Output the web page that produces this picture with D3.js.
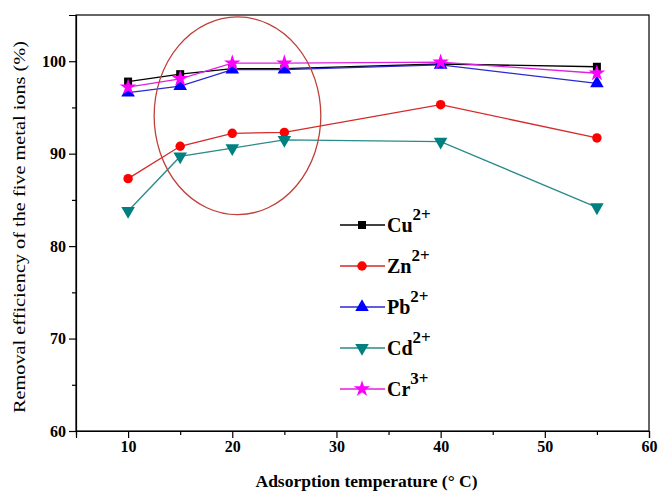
<!DOCTYPE html>
<html>
<head>
<meta charset="utf-8">
<script src="https://cdn.jsdelivr.net/npm/d3@7"></script>
<style>
  body { margin: 0; background: #fff; }
</style>
</head>
<body>
<div id="chart"></div>
<script>
// data
const temps = [10, 15, 20, 25, 40, 55];
const cu = [97.8, 98.6, 99.2, 99.2, 99.7, 99.4];
const zn = [87.3, 90.8, 92.2, 92.3, 95.3, 91.7];
const pb = [96.6, 97.3, 99.1, 99.1, 99.6, 97.6];
const cd = [83.8, 89.7, 90.6, 91.5, 91.3, 84.2];
const cr = [97.2, 98.1, 99.8, 99.8, 99.9, 98.7];
const xTicks = [10, 20, 30, 40, 50, 60];
const yTicks = [60, 70, 80, 90, 100];

const series = [
    {name: "Cu", sup: "2+", values: cu, line: "#000000", fill: "#000000", shape: "square"},
    {name: "Zn", sup: "2+", values: zn, line: "#d42a2a", fill: "#ff0000", shape: "circle"},
    {name: "Pb", sup: "2+", values: pb, line: "#2a2ad0", fill: "#0000ff", shape: "triangle"},
    {name: "Cd", sup: "2+", values: cd, line: "#2a8a8a", fill: "#008080", shape: "triangleDown"},
    {name: "Cr", sup: "3+", values: cr, line: "#e020e0", fill: "#ff00ff", shape: "star"}
];

const serif = "'Liberation Serif', 'DejaVu Serif', 'Times New Roman', serif";
const width = 658, height = 492;
const margin = {top: 15, right: 9, bottom: 61, left: 76};

const svg = d3.select("#chart").append("svg")
    .attr("width", width)
    .attr("height", height)
    .attr("font-family", serif);

const x = d3.scaleLinear().domain([5, 60]).range([margin.left, width - margin.right]);
const y = d3.scaleLinear().domain([60, 105]).range([height - margin.bottom, margin.top]);

// frame
svg.append("rect")
    .attr("x", margin.left).attr("y", margin.top)
    .attr("width", width - margin.left - margin.right)
    .attr("height", height - margin.top - margin.bottom)
    .attr("fill", "none").attr("stroke", "#000").attr("stroke-width", 1.2);

// minor ticks
const xMinor = d3.range(5, 61, 5).filter(d => d % 10 !== 0);
const yMinor = d3.range(65, 105, 10);

svg.append("g")
    .attr("transform", `translate(0,${height - margin.bottom})`)
    .call(d3.axisBottom(x).tickValues(xTicks).tickSize(7).tickPadding(3).tickFormat(d3.format("d")));
svg.append("g")
    .attr("transform", `translate(0,${height - margin.bottom})`)
    .call(d3.axisBottom(x).tickValues(xMinor).tickSize(4).tickFormat(""))
    .call(g => g.select(".domain").remove());

svg.append("g")
    .attr("transform", `translate(${margin.left},0)`)
    .call(d3.axisLeft(y).tickValues(yTicks).tickSize(7).tickPadding(3).tickFormat(d3.format("d")));
svg.append("g")
    .attr("transform", `translate(${margin.left},0)`)
    .call(d3.axisLeft(y).tickValues(yMinor).tickSize(4).tickFormat(""))
    .call(g => g.select(".domain").remove());

svg.selectAll("g").attr("font-family", serif);
svg.selectAll(".tick line").attr("stroke", "#000").attr("stroke-width", 1.2);
svg.selectAll(".domain").attr("stroke", "#000").attr("stroke-width", 1.2);
svg.selectAll(".tick text")
    .attr("font-size", 16)
    .attr("font-weight", "bold")
    .attr("fill", "#000");

// axis titles
svg.append("text")
    .attr("x", (margin.left + width - margin.right) / 2 + 4)
    .attr("y", 487)
    .attr("text-anchor", "middle")
    .attr("font-size", 17.5)
    .attr("font-weight", "bold")
    .text("Adsorption temperature (\u00b0  C)");

svg.append("text")
    .attr("transform", `translate(25,${(margin.top + height - margin.bottom) / 2 + 4}) rotate(-90)`)
    .attr("text-anchor", "middle")
    .attr("font-size", 17)
    .attr("textLength", 372)
    .attr("lengthAdjust", "spacingAndGlyphs")
    .text("Removal efficiency of the five metal ions (%)");

// marker shapes
const symbolFor = {
    square: d3.symbol().type(d3.symbolSquare).size(64),
    circle: d3.symbol().type(d3.symbolCircle).size(70),
    triangle: d3.symbol().type(d3.symbolTriangle).size(80),
    triangleDown: d3.symbol().type(d3.symbolTriangle).size(80),
    star: d3.symbol().type(d3.symbolStar).size(85)
};

function drawMarker(g, shape, fill, cx, cy) {
    g.append("path")
        .attr("d", symbolFor[shape]())
        .attr("transform", `translate(${cx},${cy})` + (shape === "triangleDown" ? " rotate(180)" : ""))
        .attr("fill", fill);
}

const line = d3.line()
    .x((d, i) => x(temps[i]))
    .y(d => y(d));

series.forEach(s => {
    const g = svg.append("g");
    g.append("path")
        .datum(s.values)
        .attr("d", line)
        .attr("fill", "none")
        .attr("stroke", s.line)
        .attr("stroke-width", 1.3);
    s.values.forEach((v, i) => drawMarker(g, s.shape, s.fill, x(temps[i]), y(v)));
});

// ellipse highlighting 15-25 C
svg.append("ellipse")
    .attr("cx", x(20.5))
    .attr("cy", y(94.1))
    .attr("rx", x(20.5) - x(12.5))
    .attr("ry", y(94.1) - y(104.8))
    .attr("fill", "none")
    .attr("stroke", "#c0403a")
    .attr("stroke-width", 1.3);

// legend
const legend = svg.append("g").attr("transform", "translate(340,225)");
series.forEach((s, i) => {
    const row = legend.append("g").attr("transform", `translate(0,${i * 41})`);
    row.append("line")
        .attr("x1", 0).attr("x2", 45)
        .attr("stroke", s.line).attr("stroke-width", 1.3);
    drawMarker(row, s.shape, s.fill, 22, 0);
    const t = row.append("text")
        .attr("x", 47).attr("y", 7)
        .attr("font-size", 20)
        .attr("font-weight", "bold");
    t.append("tspan").text(s.name);
    t.append("tspan").attr("dy", -12).attr("font-size", 17).text(s.sup);
});
</script>
</body>
</html>
